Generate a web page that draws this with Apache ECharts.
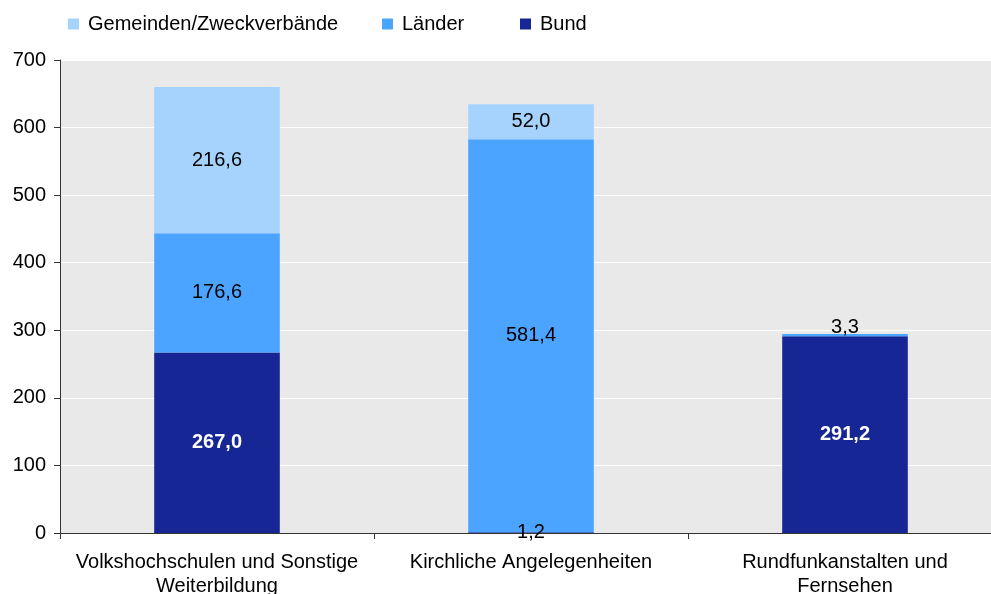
<!DOCTYPE html>
<html>
<head>
<meta charset="utf-8">
<script src="https://cdn.jsdelivr.net/npm/echarts@6/dist/echarts.min.js"></script>
<style>
  html, body { margin: 0; padding: 0; background: #fff; }
  #chart { width: 991px; height: 594px; }
</style>
</head>
<body>
<div id="chart"></div>
<script>
const categories = [
  'Volkshochschulen und Sonstige\nWeiterbildung',
  'Kirchliche Angelegenheiten',
  'Rundfunkanstalten und\nFernsehen'
];
const bund = [267.0, 1.2, 291.2];
const laender = [176.6, 581.4, 3.3];
const gemeinden = [216.6, 52.0, null];

const yTicks = [0, 100, 200, 300, 400, 500, 600, 700];

const font = 'Liberation Sans, Arial, sans-serif';
const fmt = p => p.value == null ? '' : p.value.toFixed(1).replace('.', ',');

// small segments get their label in black, slightly lifted
const toData = (arr, small) => arr.map(v => {
  if (v != null && v < 10) {
    return { value: v, label: { color: '#000', fontWeight: 'normal', offset: [0, small] } };
  }
  return v;
});

const legendItem = (name, left) => ({
  top: 14,
  left: left,
  padding: 0,
  itemWidth: 11,
  itemHeight: 11,
  icon: 'rect',
  textStyle: { fontSize: 20, color: '#000', fontFamily: font, padding: [0, 0, 0, 4] },
  data: [name]
});

let myChart = echarts.init(document.getElementById('chart'));

let option = {
  animation: false,
  backgroundColor: '#fff',
  textStyle: { fontFamily: font },
  legend: [
    legendItem('Gemeinden/Zweckverbände', 68),
    legendItem('Länder', 382),
    legendItem('Bund', 520)
  ],
  grid: {
    left: 60,
    right: -11,
    top: 60,
    bottom: 61,
    outerBoundsMode: 'none',
    show: true,
    backgroundColor: '#e9e9e9',
    borderWidth: 0
  },
  xAxis: {
    type: 'category',
    data: categories,
    axisLine: { lineStyle: { color: '#333', width: 1 } },
    axisTick: { show: true, length: 6, lineStyle: { color: '#333' } },
    axisLabel: { color: '#000', fontSize: 20, lineHeight: 24, margin: 17, fontFamily: font, interval: 0 }
  },
  yAxis: {
    type: 'value',
    min: yTicks[0],
    max: yTicks[yTicks.length - 1],
    interval: 100,
    axisLine: { show: true, lineStyle: { color: '#333' } },
    axisTick: { show: true, length: 6, lineStyle: { color: '#333' } },
    axisLabel: { color: '#000', fontSize: 20, margin: 14, fontFamily: font },
    splitLine: { lineStyle: { color: '#fff', width: 1 } }
  },
  series: [
    {
      name: 'Bund',
      type: 'bar',
      stack: 'total',
      barWidth: '40%',
      color: '#162694',
      data: toData(bund, 0),
      label: { show: true, position: 'inside', formatter: fmt, color: '#fff', fontWeight: 'bold', fontSize: 20, fontFamily: font }
    },
    {
      name: 'Länder',
      type: 'bar',
      stack: 'total',
      color: '#4ba4ff',
      data: toData(laender, -8),
      label: { show: true, position: 'inside', formatter: fmt, color: '#000', fontSize: 20, fontFamily: font }
    },
    {
      name: 'Gemeinden/Zweckverbände',
      type: 'bar',
      stack: 'total',
      color: '#a6d3fd',
      data: gemeinden,
      label: { show: true, position: 'inside', formatter: fmt, color: '#000', fontSize: 20, fontFamily: font }
    }
  ]
};

option && myChart.setOption(option);
</script>
</body>
</html>
